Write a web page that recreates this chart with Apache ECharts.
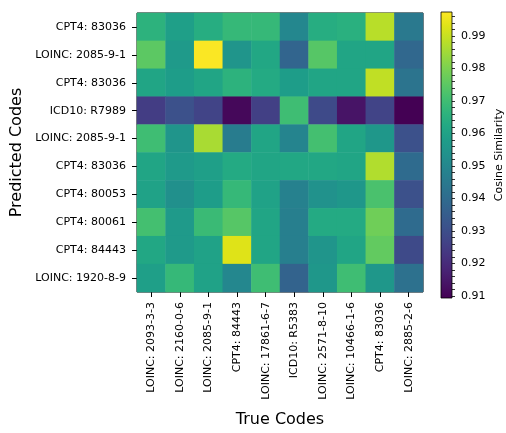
<!DOCTYPE html>
<html><head><meta charset="utf-8">
<script src="https://cdn.jsdelivr.net/npm/echarts@6/dist/echarts.min.js"></script>
<style>html,body{margin:0;padding:0;background:#fff}#c{width:506px;height:433px}</style>
</head><body><div id="c"></div>
<script>
const trueCodes = ["LOINC: 2093-3-3","LOINC: 2160-0-6","LOINC: 2085-9-1","CPT4: 84443","LOINC: 17861-6-7","ICD10: R5383","LOINC: 2571-8-10","LOINC: 10466-1-6","CPT4: 83036","LOINC: 2885-2-6"];
const predictedCodes = ["CPT4: 83036","LOINC: 2085-9-1","CPT4: 83036","ICD10: R7989","LOINC: 2085-9-1","CPT4: 83036","CPT4: 80053","CPT4: 80061","CPT4: 84443","LOINC: 1920-8-9"];
// rows = predicted codes (top to bottom), columns = true codes
const row0 = [0.966,0.959,0.964,0.968,0.968,0.950,0.964,0.965,0.988,0.945];
const row1 = [0.975,0.957,0.997,0.955,0.962,0.938,0.974,0.961,0.961,0.939];
const row2 = [0.961,0.958,0.961,0.966,0.963,0.958,0.961,0.961,0.989,0.943];
const row3 = [0.925,0.931,0.927,0.911,0.926,0.970,0.929,0.914,0.927,0.909];
const row4 = [0.970,0.955,0.986,0.946,0.961,0.949,0.971,0.961,0.956,0.931];
const row5 = [0.961,0.957,0.959,0.963,0.961,0.962,0.962,0.961,0.987,0.940];
const row6 = [0.960,0.953,0.958,0.968,0.960,0.948,0.954,0.956,0.972,0.931];
const row7 = [0.971,0.957,0.969,0.974,0.961,0.947,0.963,0.963,0.978,0.940];
const row8 = [0.962,0.957,0.960,0.993,0.961,0.947,0.955,0.961,0.976,0.929];
const row9 = [0.959,0.968,0.960,0.950,0.970,0.937,0.956,0.970,0.956,0.942];
const rows = [row0,row1,row2,row3,row4,row5,row6,row7,row8,row9];
const colorbarTicks = [0.91,0.92,0.93,0.94,0.95,0.96,0.97,0.98,0.99];
const colorbarMinorTicks = [0.910,0.912,0.914,0.916,0.918,0.920,0.922,0.924,0.926,0.928,0.930,0.932,0.934,0.936,0.938,0.940,0.942,0.944,0.946,0.948,0.950,0.952,0.954,0.956,0.958,0.960,0.962,0.964,0.966,0.968,0.970,0.972,0.974,0.976,0.978,0.980,0.982,0.984,0.986,0.988,0.990,0.992,0.994,0.996];
const vMin = 0.9094, vMax = 0.9974;

const viridis = ['#440154','#471365','#482475','#463480','#414487','#3b528b','#355f8d','#2f6c8e','#2a788e','#25848e','#21918c','#1e9c89','#22a884','#2fb47c','#44bf70','#5ec962','#7ad151','#9bd93c','#bddf26','#dfe318','#fde725'];

const data = [];
rows.forEach((r, yi) => r.forEach((v, xi) => data.push([xi, yi, v])));

const FONT = 'DejaVu Sans';
const G = {left:137, top:13, width:286, height:285};
const CB = {left:441, top:12, width:11, height:286};

const chart = echarts.init(document.getElementById('c'), null, {renderer:'canvas'});
chart.setOption({
  animation:false,
  textStyle:{fontFamily:FONT},
  grid:[
    {left:G.left, top:G.top, width:G.width, height:G.height, show:true, borderColor:'#000', borderWidth:1, backgroundColor:'transparent'},
    {left:CB.left, top:CB.top, width:CB.width, height:CB.height, show:false}
  ],
  xAxis:[
    {type:'category', gridIndex:0, data:trueCodes, name:'True Codes', nameLocation:'middle', nameGap:120,
     nameTextStyle:{fontSize:16, color:'#000', fontFamily:FONT},
     axisLine:{show:false}, splitLine:{show:false},
     axisTick:{show:true, alignWithLabel:true, length:5, lineStyle:{color:'#000'}},
     axisLabel:{rotate:90, fontSize:11, color:'#000', margin:10, fontFamily:FONT, interval:0}},
    {type:'value', gridIndex:1, show:false, min:0, max:1}
  ],
  yAxis:[
    {type:'category', gridIndex:0, data:predictedCodes, inverse:true, name:'Predicted Codes', nameLocation:'middle', nameGap:111,
     nameTextStyle:{fontSize:16, color:'#000', fontFamily:FONT},
     axisLine:{show:false}, splitLine:{show:false},
     axisTick:{show:true, alignWithLabel:true, length:5, lineStyle:{color:'#000'}},
     axisLabel:{fontSize:11, color:'#000', margin:11, fontFamily:FONT, interval:0}},
    {type:'value', gridIndex:1, position:'right', min:vMin, max:vMax,
     name:'Cosine Similarity', nameLocation:'middle', nameGap:42, nameRotate:90,
     nameTextStyle:{fontSize:11, color:'#000', fontFamily:FONT},
     axisLine:{show:false}, splitLine:{show:false},
     axisTick:{show:true, customValues:colorbarTicks, length:5, lineStyle:{color:'#000'}},
     axisLabel:{show:true, customValues:colorbarTicks, fontSize:11, color:'#000', margin:9, fontFamily:FONT,
       formatter:v=>v.toFixed(2)}},
    {type:'value', gridIndex:1, position:'right', min:vMin, max:vMax,
     axisLine:{show:false}, splitLine:{show:false},
     axisTick:{show:true, customValues:colorbarMinorTicks, length:3, lineStyle:{color:'#000', width:0.8}},
     axisLabel:{show:false}}
  ],
  visualMap:{show:false, type:'continuous', min:vMin, max:vMax, dimension:2, seriesIndex:0, inRange:{color:viridis}},
  graphic:[{
    type:'rect', shape:{x:CB.left, y:CB.top, width:CB.width, height:CB.height}, z:10,
    style:{
      fill:new echarts.graphic.LinearGradient(0,1,0,0, viridis.map((c,i)=>({offset:i/(viridis.length-1), color:c}))),
      stroke:'#000', lineWidth:0.8
    }
  }],
  series:[{type:'heatmap', xAxisIndex:0, yAxisIndex:0, data:data, itemStyle:{borderWidth:0}, emphasis:{disabled:true}}]
});
</script></body></html>
